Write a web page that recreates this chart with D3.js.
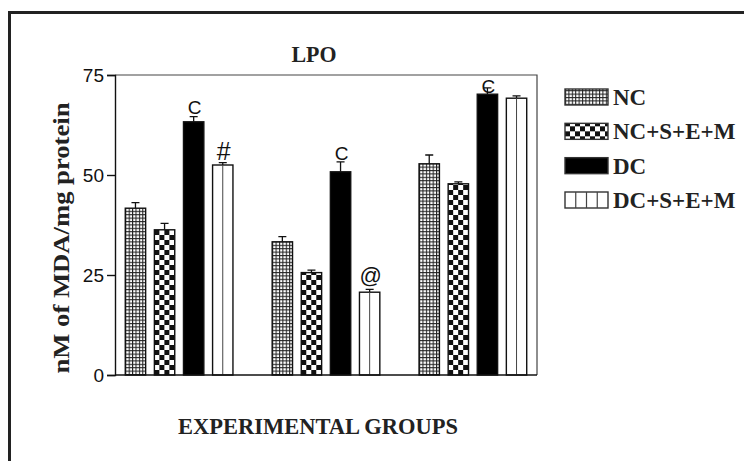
<!DOCTYPE html>
<html>
<head>
<meta charset="utf-8">
<script src="https://cdn.jsdelivr.net/npm/d3@7"></script>
<style>
  body { margin: 0; background: #fff; }
  svg { display: block; }
  .serif { font-family: "Liberation Serif", "Times New Roman", serif; font-weight: bold; fill: #222; }
  .tick text { font-family: "Liberation Sans", Arial, sans-serif; font-size: 19px; fill: #111; }
</style>
</head>
<body>
<div id="chart"></div>
<script>
// data
const groups = ['G1', 'G2', 'G3'];
const series = ['NC', 'NC+S+E+M', 'DC', 'DC+S+E+M'];
const ncValues = [41.7, 33.3, 52.8];
const ncErrors = [1.4, 1.3, 2.2];
const ncsemValues = [36.3, 25.6, 47.8];
const ncsemErrors = [1.6, 0.6, 0.5];
const dcValues = [63.3, 50.8, 70.2];
const dcErrors = [1.3, 2.5, 1.6];
const dcsemValues = [52.5, 20.7, 69.2];
const dcsemErrors = [0.6, 0.7, 0.6];
const dcMarks = ['C', 'C', 'C'];
const dcMarkLevels = [65.3, 53.8, 70.6];
const dcsemMarks = ['#', '@', ''];
const dcsemMarkLevels = [53.7, 23.0, 0];
const yTicks = [0, 25, 50, 75];

const values = [ncValues, ncsemValues, dcValues, dcsemValues];
const errors = [ncErrors, ncsemErrors, dcErrors, dcsemErrors];
const marks = [null, null, dcMarks, dcsemMarks];
const markLevels = [null, null, dcMarkLevels, dcsemMarkLevels];

const rows = [];
groups.forEach((g, gi) => {
  series.forEach((s, si) => {
    rows.push({
      group: g,
      series: s,
      value: values[si][gi],
      err: errors[si][gi],
      mark: marks[si] ? marks[si][gi] : '',
      markLevel: markLevels[si] ? markLevels[si][gi] : 0
    });
  });
});

const width = 744;
const height = 461;
const plot = { left: 115, right: 537, top: 75, bottom: 375 };

const svg = d3.select('#chart')
  .append('svg')
  .attr('width', width)
  .attr('height', height);

// fill patterns
const defs = svg.append('defs');

const dots = defs.append('pattern')
  .attr('id', 'pat-nc')
  .attr('patternUnits', 'userSpaceOnUse')
  .attr('width', 3.4)
  .attr('height', 3.4);
dots.append('rect').attr('width', 3.4).attr('height', 3.4).attr('fill', '#fff');
dots.append('path')
  .attr('d', 'M0,0.5H3.4M0.5,0V3.4')
  .attr('stroke', '#222')
  .attr('stroke-width', 1.1);

const checker = defs.append('pattern')
  .attr('id', 'pat-ncsem')
  .attr('patternUnits', 'userSpaceOnUse')
  .attr('width', 10)
  .attr('height', 10);
checker.append('rect').attr('width', 10).attr('height', 10).attr('fill', '#fff');
checker.append('rect').attr('width', 5).attr('height', 5).attr('fill', '#111');
checker.append('rect').attr('x', 5).attr('y', 5).attr('width', 5).attr('height', 5).attr('fill', '#111');

const fills = {
  'NC': 'url(#pat-nc)',
  'NC+S+E+M': 'url(#pat-ncsem)',
  'DC': '#000',
  'DC+S+E+M': '#fff'
};

// outer frame
svg.append('path')
  .attr('d', `M9.5,${height}V12.5H${width}`)
  .attr('fill', 'none')
  .attr('stroke', '#222')
  .attr('stroke-width', 3);

const x0 = d3.scaleBand()
  .domain(groups)
  .range([plot.left, plot.right])
  .paddingInner(0.267)
  .paddingOuter(0.07);

const x1 = d3.scaleBand()
  .domain(series)
  .range([0, x0.bandwidth()])
  .paddingInner(0.3);

const y = d3.scaleLinear()
  .domain([0, 75])
  .range([plot.bottom, plot.top]);

// top and right frame of the plot
svg.append('path')
  .attr('d', `M${plot.left},${plot.top}H${plot.right}V${plot.bottom}`)
  .attr('fill', 'none')
  .attr('stroke', '#444')
  .attr('stroke-width', 1.2);

const g = svg.append('g');

const bars = g.selectAll('.bar-group')
  .data(rows)
  .enter()
  .append('g')
  .attr('transform', d => `translate(${x0(d.group) + x1(d.series)},0)`);

// error bars (upper only)
bars.append('path')
  .attr('d', d => {
    const c = x1.bandwidth() / 2;
    const yt = y(d.value + d.err);
    return `M${c},${y(d.value)}V${yt}M${c - 4},${yt}H${c + 4}`;
  })
  .attr('stroke', '#111')
  .attr('stroke-width', 1.3)
  .attr('fill', 'none');

bars.append('rect')
  .attr('x', 0)
  .attr('y', d => y(d.value))
  .attr('width', x1.bandwidth())
  .attr('height', d => y(0) - y(d.value))
  .attr('fill', d => fills[d.series])
  .attr('stroke', '#111')
  .attr('stroke-width', 1.4);

// vertical stripe inside DC+S+E+M bars
bars.filter(d => d.series === 'DC+S+E+M')
  .append('line')
  .attr('x1', x1.bandwidth() / 2)
  .attr('x2', x1.bandwidth() / 2)
  .attr('y1', d => y(d.value))
  .attr('y2', y(0))
  .attr('stroke', '#444')
  .attr('stroke-width', 1);

const markSize = { 'C': '19px', '#': '25px', '@': '22px' };

bars.filter(d => d.mark)
  .append('text')
  .attr('x', x1.bandwidth() / 2 + 1)
  .attr('y', d => y(d.markLevel))
  .attr('text-anchor', 'middle')
  .style('font-family', '"Liberation Sans", Arial, sans-serif')
  .style('font-size', d => markSize[d.mark])
  .attr('fill', '#111')
  .text(d => d.mark);

// axes
svg.append('g')
  .attr('transform', `translate(${plot.left},0)`)
  .call(d3.axisLeft(y).tickValues(yTicks).tickSize(8).tickPadding(3))
  .call(a => a.selectAll('path, line').attr('stroke', '#111').attr('stroke-width', 1.4));

svg.append('line')
  .attr('x1', plot.left)
  .attr('x2', plot.right)
  .attr('y1', y(0))
  .attr('y2', y(0))
  .attr('stroke', '#111')
  .attr('stroke-width', 1.4);

// titles
svg.append('text')
  .attr('class', 'serif')
  .attr('x', 314)
  .attr('y', 62)
  .attr('text-anchor', 'middle')
  .attr('textLength', 45)
  .attr('lengthAdjust', 'spacingAndGlyphs')
  .style('font-size', '23px')
  .text('LPO');

svg.append('text')
  .attr('class', 'serif')
  .attr('x', 318)
  .attr('y', 434)
  .attr('text-anchor', 'middle')
  .attr('textLength', 280)
  .attr('lengthAdjust', 'spacingAndGlyphs')
  .style('font-size', '23px')
  .text('EXPERIMENTAL GROUPS');

svg.append('text')
  .attr('class', 'serif')
  .attr('transform', 'translate(69,238) rotate(-90)')
  .attr('text-anchor', 'middle')
  .attr('textLength', 271)
  .attr('lengthAdjust', 'spacingAndGlyphs')
  .style('font-size', '24px')
  .text('nM of MDA/mg protein');

// legend
const legend = svg.append('g')
  .attr('transform', 'translate(565,0)');

const legendY = d3.scalePoint()
  .domain(series)
  .range([97, 200]);

const item = legend.selectAll('.legend-item')
  .data(series)
  .enter()
  .append('g')
  .attr('transform', d => `translate(0,${legendY(d)})`);

item.append('rect')
  .attr('x', 0)
  .attr('y', -8)
  .attr('width', 43)
  .attr('height', 16)
  .attr('fill', d => fills[d])
  .attr('stroke', '#333')
  .attr('stroke-width', 1.4);

item.filter(d => d === 'DC+S+E+M')
  .selectAll('line')
  .data([1, 2, 3])
  .enter()
  .append('line')
  .attr('x1', k => k * 43 / 4)
  .attr('x2', k => k * 43 / 4)
  .attr('y1', -8)
  .attr('y2', 8)
  .attr('stroke', '#444')
  .attr('stroke-width', 1.2);

item.append('text')
  .attr('class', 'serif')
  .attr('x', 48)
  .attr('y', 8)
  .style('font-size', '23px')
  .text(d => d);
</script>
</body>
</html>
